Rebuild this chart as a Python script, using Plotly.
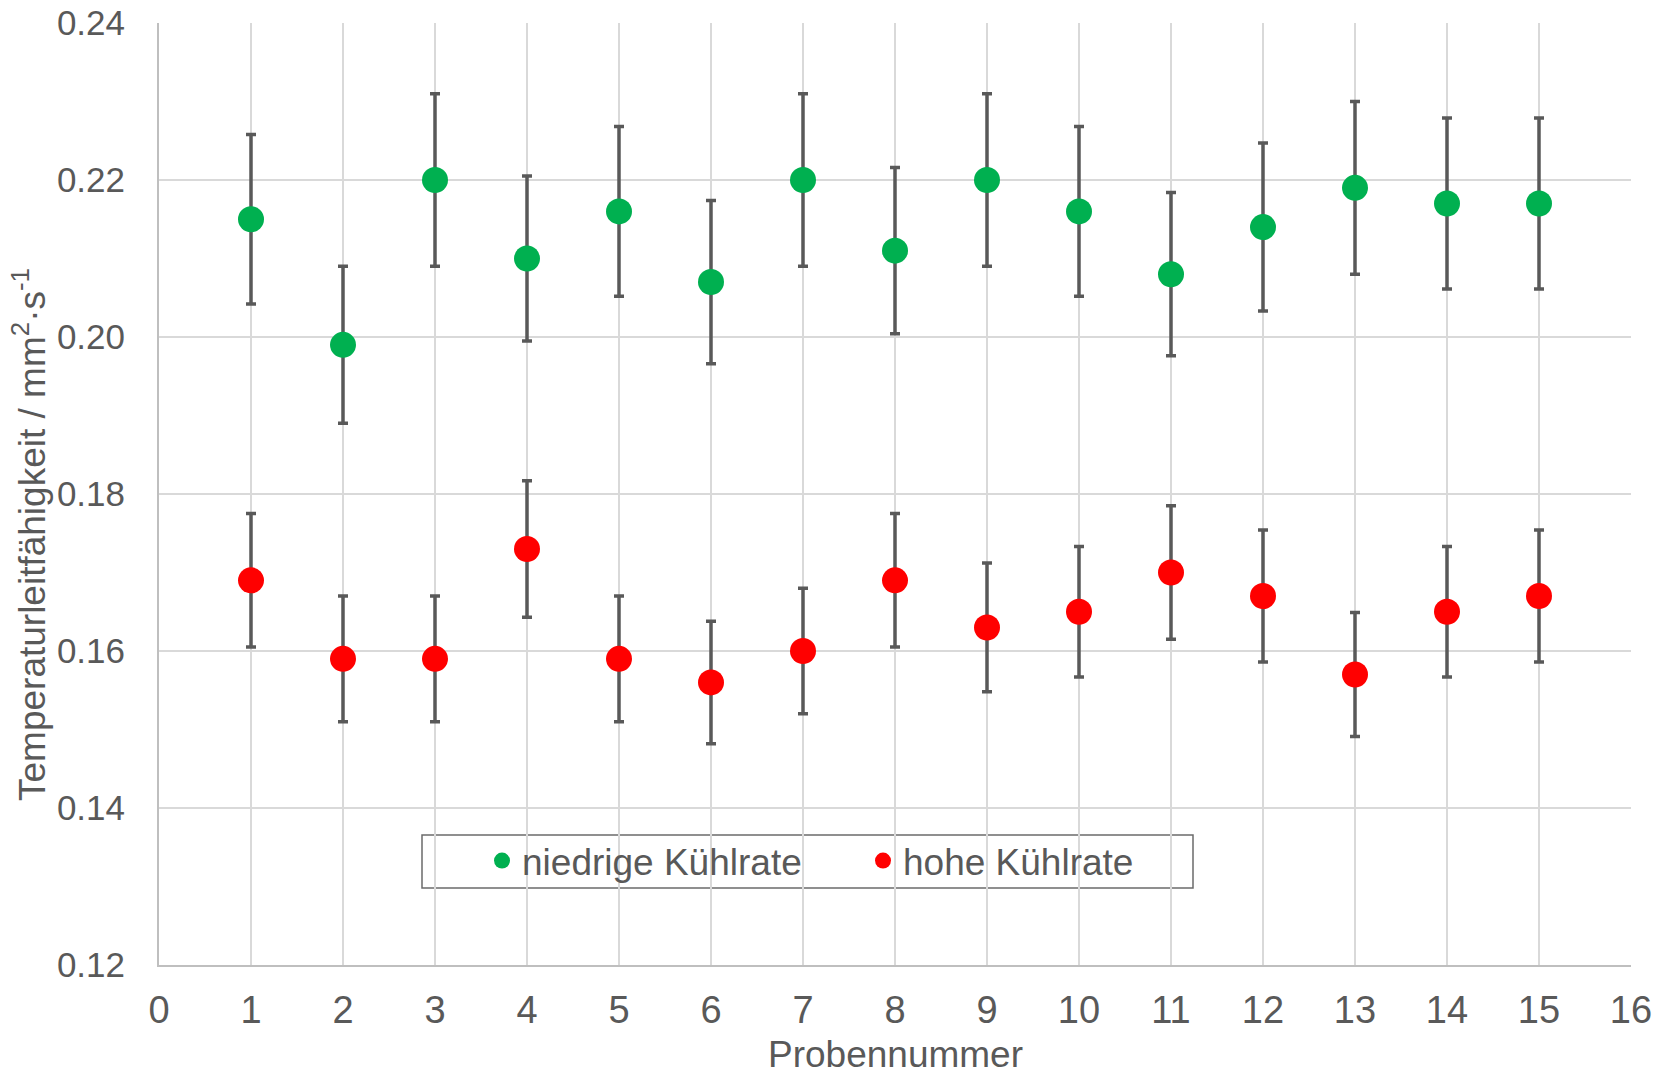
import plotly.graph_objects as go

probe = list(range(1, 16))
niedrig = [0.215, 0.199, 0.220, 0.210, 0.216, 0.207, 0.220, 0.211, 0.220, 0.216, 0.208, 0.214, 0.219, 0.217, 0.217]
niedrig_err = [0.0108, 0.0100, 0.0110, 0.0105, 0.0108, 0.0104, 0.0110, 0.0106, 0.0110, 0.0108, 0.0104, 0.0107, 0.0110, 0.0109, 0.0109]
hoch = [0.169, 0.159, 0.159, 0.173, 0.159, 0.156, 0.160, 0.169, 0.163, 0.165, 0.170, 0.167, 0.157, 0.165, 0.167]
hoch_err = [0.0085, 0.0080, 0.0080, 0.0087, 0.0080, 0.0078, 0.0080, 0.0085, 0.0082, 0.0083, 0.0085, 0.0084, 0.0079, 0.0083, 0.0084]
x_ticks = list(range(0, 17))
y_ticks = [0.12, 0.14, 0.16, 0.18, 0.20, 0.22, 0.24]

FONT = "Liberation Sans, Arial, sans-serif"
GREY = "#595959"

fig = go.Figure()
for name, vals, errs, col in [
    ("niedrige Kühlrate", niedrig, niedrig_err, "#00b050"),
    ("hohe Kühlrate", hoch, hoch_err, "#ff0000"),
]:
    fig.add_trace(go.Scatter(
        x=probe, y=vals, mode="markers", name=name,
        marker=dict(color=col, size=26, line=dict(width=0)),
        error_y=dict(type="data", array=errs, visible=True,
                     color=GREY, thickness=3.5, width=5),
    ))

W, H = 1655, 1076
L, R, T, B = 159, 24, 23, 111
pw = W - L - R
ph = H - T - B

def px_x(p):
    return (p - L) / pw

def px_y(p):
    return (H - B - p) / ph

fig.update_layout(
    width=W, height=H,
    margin=dict(l=L, r=R, t=T, b=B, autoexpand=False),
    paper_bgcolor="white", plot_bgcolor="white",
    font=dict(family=FONT, color=GREY),
    showlegend=True,
    legend=dict(
        orientation="h", x=px_x(482), y=px_y(830), xanchor="left", yanchor="top",
        font=dict(size=37, family=FONT, color=GREY),
        bgcolor="rgba(0,0,0,0)", borderwidth=0,
        entrywidth=336, entrywidthmode="pixels",
        itemsizing="trace",
    ),
    xaxis=dict(
        range=[0, 16], tickvals=x_ticks, ticktext=[str(v) for v in x_ticks],
        showgrid=True, gridcolor="#d9d9d9", gridwidth=1.5,
        showline=True, linecolor="#bfbfbf", linewidth=2,
        zeroline=False, ticks="", ticklabelstandoff=10, automargin=False,
        tickfont=dict(size=38, family=FONT, color=GREY),
    ),
    yaxis=dict(
        range=[0.12, 0.24], tickvals=y_ticks, ticktext=[f"{v:.2f}" for v in y_ticks],
        showgrid=True, gridcolor="#d9d9d9", gridwidth=1.5,
        showline=True, linecolor="#bfbfbf", linewidth=2,
        zeroline=False, ticks="", ticklabelstandoff=25, automargin=False,
        tickfont=dict(size=35, family=FONT, color=GREY),
    ),
    annotations=[
        dict(
            text="Temperaturleitfähigkeit / mm<sup>2</sup>·s<sup>-1</sup>",
            xref="paper", yref="paper", x=px_x(29), y=px_y(535),
            xanchor="center", yanchor="middle", textangle=-90, showarrow=False,
            font=dict(size=37, family=FONT, color=GREY),
        ),
        dict(
            text="Probennummer",
            xref="paper", yref="paper", x=0.5, y=px_y(1054),
            xanchor="center", yanchor="middle", showarrow=False, borderpad=0,
            font=dict(size=37, family=FONT, color=GREY),
        ),
    ],
    shapes=[dict(
        type="rect", xref="paper", yref="paper",
        x0=px_x(422), x1=px_x(1193), y0=px_y(888), y1=px_y(835),
        line=dict(color="#6b6b6b", width=1.5), fillcolor="white", layer="below",
    )],
)

fig.write_html("out.html")
